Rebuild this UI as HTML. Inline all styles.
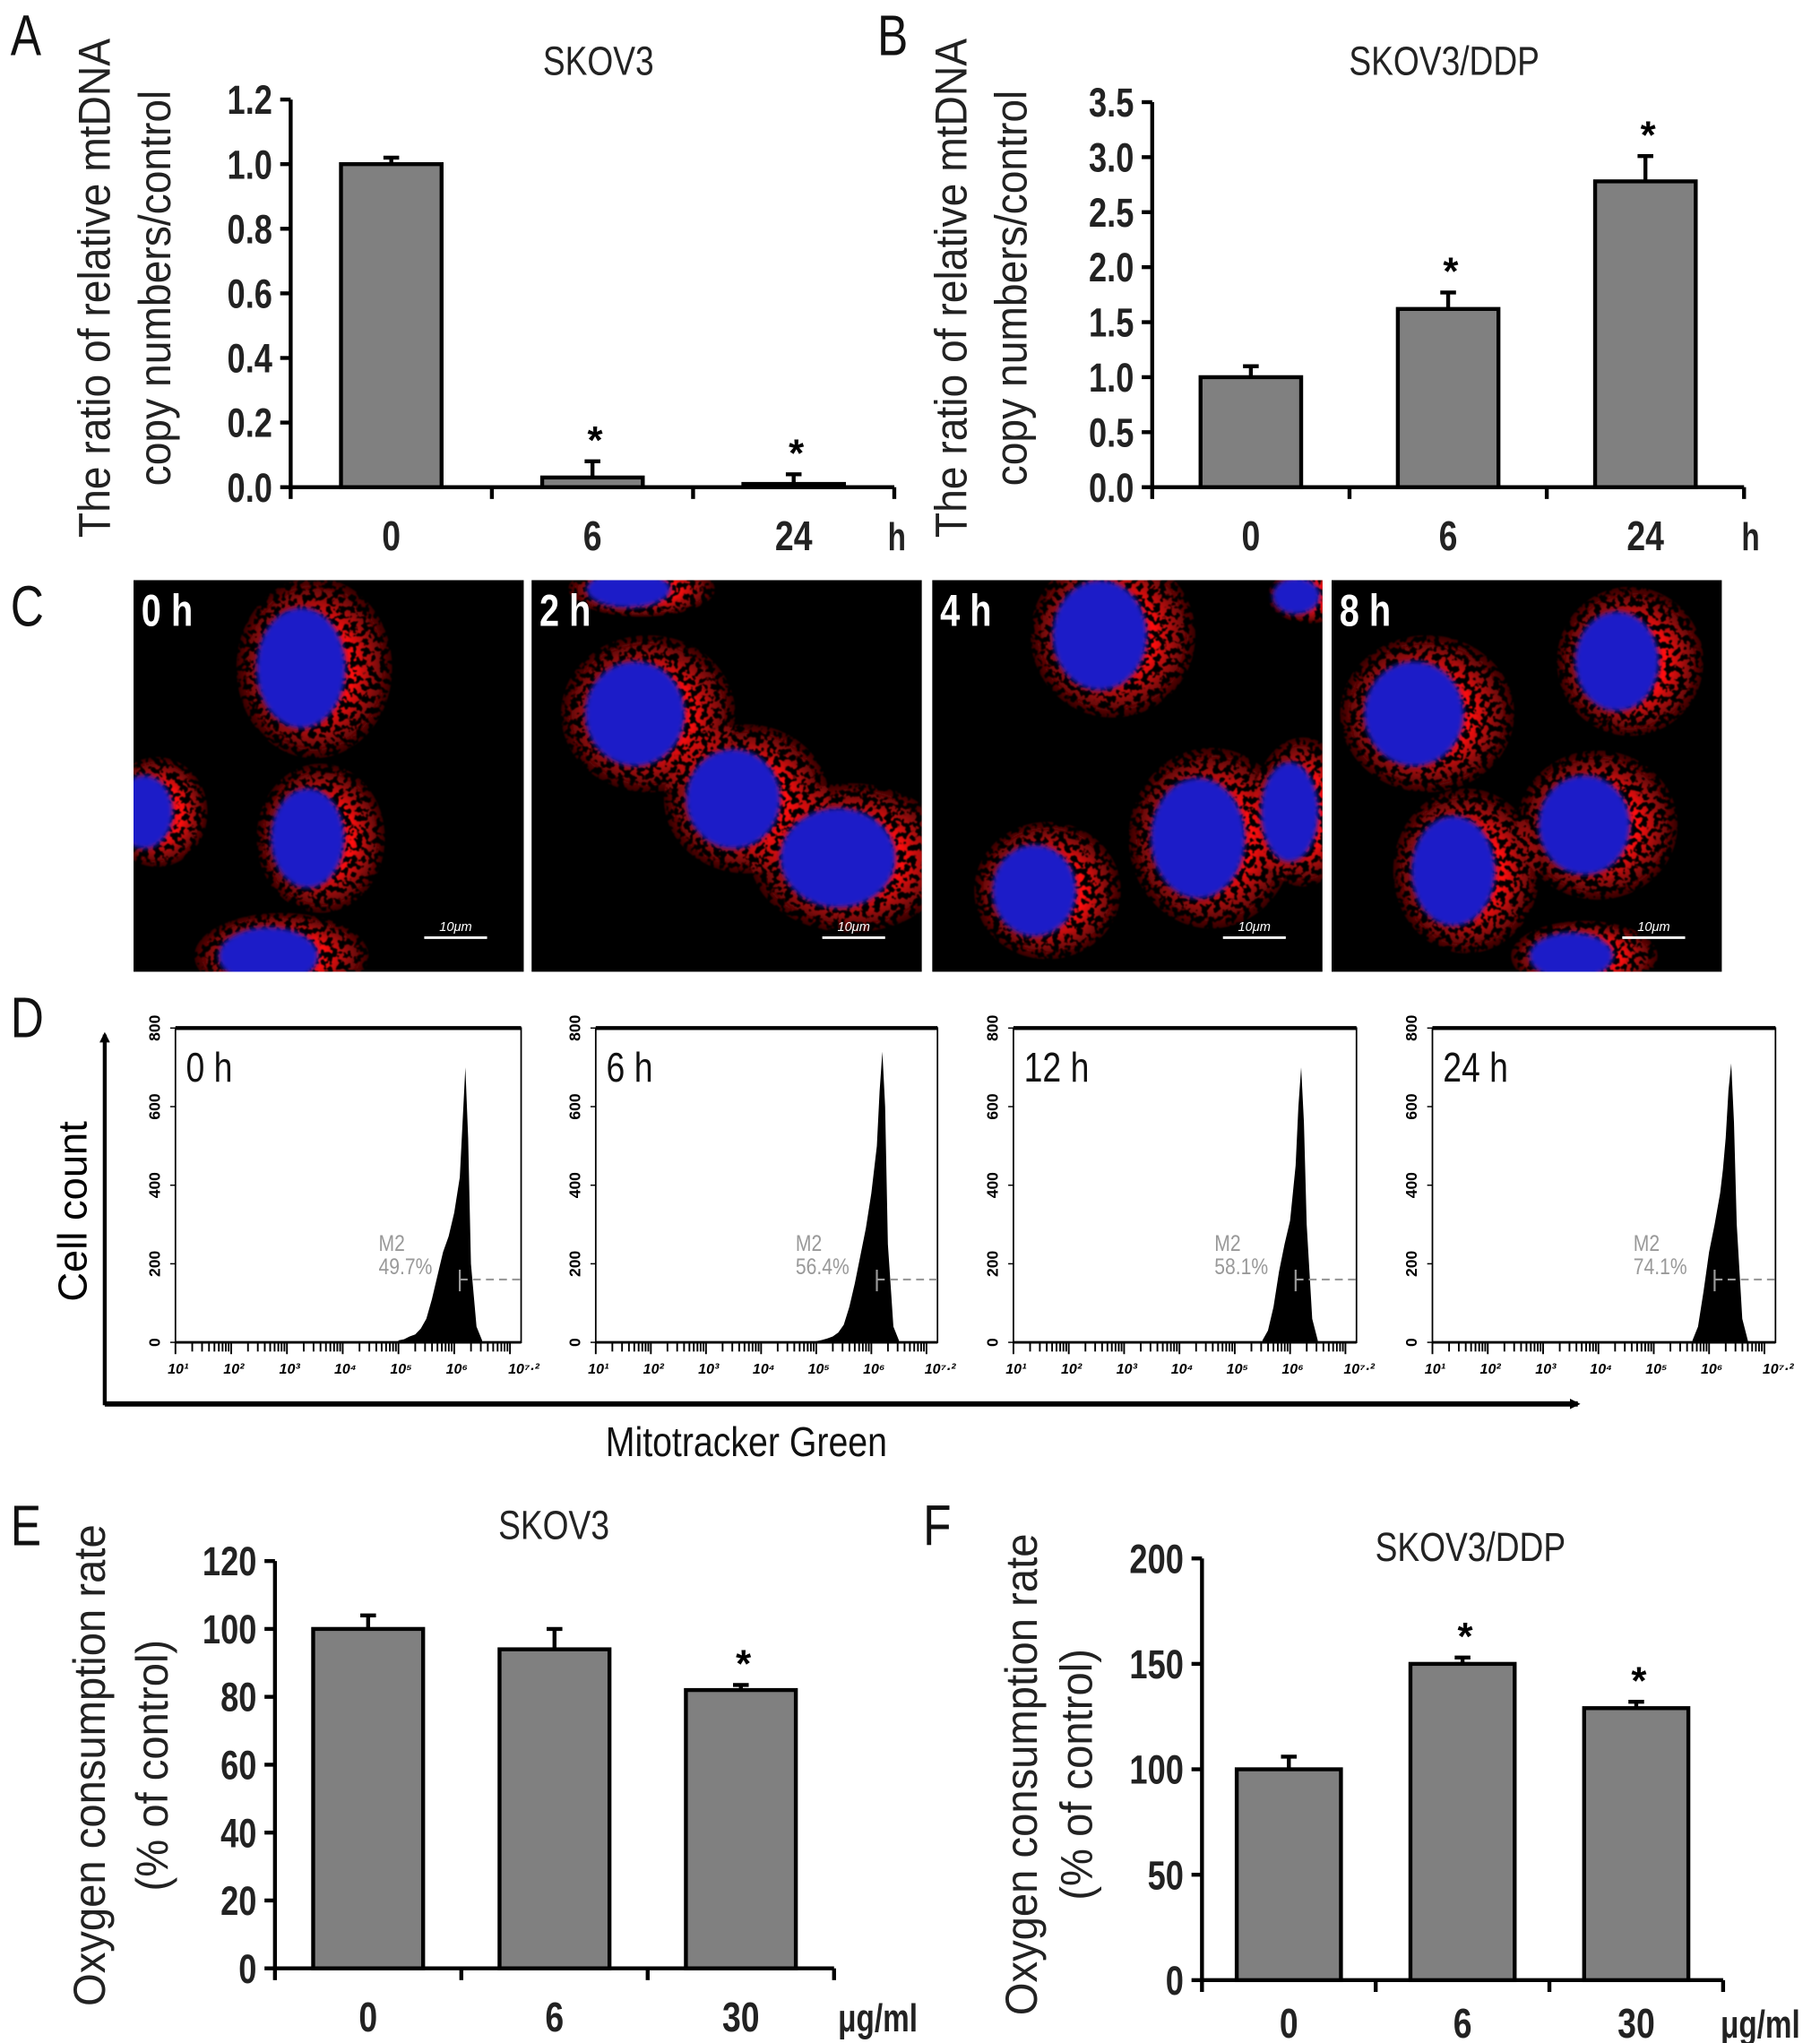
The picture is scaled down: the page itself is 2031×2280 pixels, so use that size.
<!DOCTYPE html>
<html><head><meta charset="utf-8"><style>
html,body{margin:0;padding:0;background:#fff}
svg{display:block}
text{font-family:"Liberation Sans",sans-serif}
</style></head><body>
<svg id="fig" width="2031" height="2280" viewBox="0 0 1390 1560" preserveAspectRatio="none" xmlns="http://www.w3.org/2000/svg">
<defs>
<filter id="speck" x="-20%" y="-20%" width="140%" height="140%">
<feTurbulence type="fractalNoise" baseFrequency="0.22" numOctaves="2" seed="3" result="n"/>
<feColorMatrix in="n" type="matrix" values="0 0 0 0 0 0 0 0 0 0 0 0 0 0 0 0 0 0 -14 7.8" result="m"/>
<feComposite in="SourceGraphic" in2="m" operator="in" result="s"/>
<feGaussianBlur in="s" stdDeviation="0.5"/>
</filter>
<filter id="soft"><feGaussianBlur stdDeviation="2"/></filter>
<radialGradient id="redg"><stop offset="0.5" stop-color="#ff1010" stop-opacity="1"/><stop offset="1" stop-color="#ff1010" stop-opacity="0.2"/></radialGradient>
<marker id="arr" markerWidth="8" markerHeight="8" refX="6" refY="4" orient="auto" markerUnits="userSpaceOnUse"><path d="M0,0 L8,4 L0,8 z" fill="#000"/></marker>
</defs>
<g id="root"></g>
</svg>
<script>
// ---- Panel A data ----
const catsA = ["0","6","24"];
const valsA = [1.0, 0.03, 0.01];
const errA = [0.02, 0.05, 0.03];
const sigA = [false, true, true];
const ticksA = ["0.0","0.2","0.4","0.6","0.8","1.0","1.2"];
// ---- Panel B data ----
const catsB = ["0","6","24"];
const valsB = [1.0, 1.62, 2.78];
const errB = [0.1, 0.15, 0.23];
const sigB = [false, true, true];
const ticksB = ["0.0","0.5","1.0","1.5","2.0","2.5","3.0","3.5"];
// ---- Panel E data ----
const catsE = ["0","6","30"];
const valsE = [100, 94, 82];
const errE = [4, 6, 1.5];
const sigE = [false, false, true];
const ticksE = ["0","20","40","60","80","100","120"];
// ---- Panel F data ----
const catsF = ["0","6","30"];
const valsF = [100, 150, 129];
const errF = [6, 3, 3];
const sigF = [false, true, true];
const ticksF = ["0","50","100","150","200"];
// ---- Panel D histogram data (log10 fluorescence bins, counts) ----
const histLabels = ["0 h","6 h","12 h","24 h"];
const histPct = ["49.7%","56.4%","58.1%","74.1%"];
const histBinsH0 = [5.0,5.1,5.2,5.3,5.4,5.5,5.6,5.7,5.8,5.9,6.0,6.1,6.15,6.2,6.25,6.3,6.4,6.5];
const histCntH0 = [5,8,15,20,35,60,110,170,230,270,330,420,560,700,520,200,40,5];
const histBinsH6 = [5.0,5.1,5.2,5.3,5.4,5.5,5.6,5.7,5.8,5.9,6.0,6.1,6.15,6.2,6.25,6.3,6.4,6.5];
const histCntH6 = [3,6,10,15,25,45,90,150,220,290,380,500,640,740,600,250,40,5];
const histBinsH12 = [5.5,5.6,5.7,5.8,5.9,6.0,6.05,6.1,6.15,6.2,6.25,6.3,6.4,6.5];
const histCntH12 = [5,30,90,180,250,310,380,450,600,700,560,300,60,5];
const histBinsH24 = [5.7,5.8,5.9,6.0,6.1,6.2,6.25,6.3,6.35,6.4,6.45,6.5,6.6,6.7];
const histCntH24 = [5,40,130,230,300,380,440,520,640,710,560,300,60,5];
const histXTicks = ["10¹","10²","10³","10⁴","10⁵","10⁶","10⁷·²"];
const histYTicks = ["0","200","400","600","800"];

const NS="http://www.w3.org/2000/svg";
const root=document.getElementById('root');
function mk(tag,attrs,parent,txt){const e=document.createElementNS(NS,tag);for(const k in attrs)e.setAttribute(k,attrs[k]);if(txt!==undefined)e.textContent=txt;(parent||root).appendChild(e);return e;}
function T(parent,x,y,txt,attrs,rot,sx){
  const a=Object.assign({x:0,y:0},attrs);
  a.transform=`translate(${x},${y})`+(rot?` rotate(${rot})`:'')+` scale(${sx||0.8},1)`;
  return mk('text',a,parent,txt);
}

function barChart(o){
  const g=mk('g',{});
  
  
  const y=v=>o.y0-(v-o.vmin)/(o.vmax-o.vmin)*(o.y0-o.y1);
  const n=o.cats.length, step=(o.x1-o.x0)/n;
  const xc=i=>o.x0+step*(i+0.5);
  const lo=o.lo||48;
  const ya=mk('line',{x1:o.x0,y1:o.y1,x2:o.x0,y2:o.y0,stroke:'#000','stroke-width':3},g);
  
  
  o.ticks.forEach((t,i)=>{
    const v=o.vmin+(o.vmax-o.vmin)*i/(o.ticks.length-1);
    mk('line',{x1:o.x0-8,y1:y(v),x2:o.x0,y2:y(v),stroke:'#000','stroke-width':3},g);
    const tl=T(g,o.x0-14,y(v)+11,t,{'text-anchor':'end','font-size':31,'font-weight':'bold',fill:'#222'},0,0.8);
    
    
  });
  const xa=mk('line',{x1:o.x0,y1:o.y0,x2:o.x1,y2:o.y0,stroke:'#000','stroke-width':3},g);
  
  
  for(let i=0;i<=n;i++) mk('line',{x1:o.x0+step*i,y1:o.y0,x2:o.x0+step*i,y2:o.y0+9,stroke:'#000','stroke-width':3},g);
  o.cats.forEach((c,i)=>{
    const bw=step*o.bf;
    const top=y(o.vals[i]);
    const eT=y(o.vals[i]+o.err[i]);
    const el=mk('line',{x1:xc(i),y1:top,x2:xc(i),y2:eT,stroke:'#000','stroke-width':3},g);
    
    
    mk('line',{x1:xc(i)-6,y1:eT,x2:xc(i)+6,y2:eT,stroke:'#000','stroke-width':3},g);
    const b=mk('rect',{x:xc(i)-bw/2,y:top,width:bw,height:Math.max(o.y0-top,1),fill:'#808080',stroke:'#000','stroke-width':3},g);
    
    
    if(o.sig[i]){const s=mk('text',{x:xc(i)+2,y:eT-6,'text-anchor':'middle','font-size':30,'font-weight':'bold'},g,'*');
      
      }
    const cl=T(g,xc(i),o.y0+lo,c,{'text-anchor':'middle','font-size':32,'font-weight':'bold',fill:'#222'},0,0.8);
    
    
  });
  const u=T(g,o.unitX,o.y0+lo,o.unit,{'font-size':30,'font-weight':'bold',fill:'#222'},0,0.76);
  
  
  const t=T(g,o.tx,o.ty,o.title,{'text-anchor':'middle','font-size':31,fill:'#222'},0,0.82);
  
  
  o.ytitle.forEach((l,k)=>{
    const yt=T(g,o.ytx[k],o.yty,l,{'text-anchor':'middle','font-size':34,fill:'#222'},-90,o.ysx||0.9);
    
    
  });
  const p=T(g,o.px,o.py,o.panel,{'font-size':44,fill:'#111'},0,0.8);
  
  
}

barChart({name:'chart-a',cats:catsA,vals:valsA,err:errA,sig:sigA,ticks:ticksA,vmin:0,vmax:1.2,x0:222,x1:683,y0:372,y1:76,bf:0.5,unit:'h',unitX:678,title:'SKOV3',tx:457,ty:57,ytitle:['The ratio of relative mtDNA','copy numbers/control'],ytx:[84,130],yty:220,ysx:0.93,panel:'A',px:8,py:42});
barChart({name:'chart-b',cats:catsB,vals:valsB,err:errB,sig:sigB,ticks:ticksB,vmin:0,vmax:3.5,x0:880,x1:1332,y0:372,y1:78,bf:0.51,unit:'h',unitX:1330,title:'SKOV3/DDP',tx:1103,ty:57,ytitle:['The ratio of relative mtDNA','copy numbers/control'],ytx:[738,784],yty:220,ysx:0.93,panel:'B',px:670,py:42});
barChart({name:'chart-e',cats:catsE,vals:valsE,err:errE,sig:sigE,ticks:ticksE,vmin:0,vmax:120,x0:210,x1:637,y0:1503,y1:1192,bf:0.59,unit:'μg/ml',unitX:640,title:'SKOV3',tx:423,ty:1175,ytitle:['Oxygen consumption rate','(% of control)'],ytx:[80,128],yty:1348,ysx:0.95,panel:'E',px:8,py:1180});
barChart({name:'chart-f',cats:catsF,vals:valsF,err:errF,sig:sigF,ticks:ticksF,vmin:0,vmax:200,x0:918,x1:1316,y0:1512,y1:1190,bf:0.6,lo:44,unit:'μg/ml',unitX:1314,title:'SKOV3/DDP',tx:1123,ty:1192,ytitle:['Oxygen consumption rate','(% of control)'],ytx:[792,834],yty:1355,ysx:0.95,panel:'F',px:705,py:1180});

// ---- Panel C microscopy (illustrative) ----
const micro=[
 {x:102,l:'0 h',cells:[[230,510,34,46],[235,640,28,38],[205,730,38,22],[110,620,22,28]]},
 {x:406,l:'2 h',cells:[[485,545,38,40],[560,610,36,38],[640,655,44,38],[480,450,32,14]]},
 {x:712,l:'4 h',cells:[[840,485,36,42],[915,640,36,46],[790,680,32,35],[985,620,22,38],[990,455,18,14]]},
 {x:1017,l:'8 h',cells:[[1080,545,38,40],[1210,630,35,38],[1110,665,32,42],[1235,505,32,38],[1200,730,32,18]]}
];
micro.forEach((m,i)=>{
  const g=mk('g',{});
  
  
  const cid='clip'+i;
  const cp=mk('clipPath',{id:cid},g);mk('rect',{x:m.x,y:443,width:298,height:299},cp);
  mk('rect',{x:m.x,y:443,width:298,height:299,fill:'#000'},g);
  const gg=mk('g',{'clip-path':`url(#${cid})`},g);
  const rg=mk('g',{filter:'url(#speck)'},gg);
  m.cells.forEach(c=>{
    mk('ellipse',{cx:c[0]+10,cy:c[1],rx:c[2]*1.75,ry:c[3]*1.5,fill:'url(#redg)'},rg);
  });
  m.cells.forEach(c=>{
    mk('ellipse',{cx:c[0],cy:c[1],rx:c[2],ry:c[3],fill:'#1c1cc8',filter:'url(#soft)'},gg);
  });
  const lt=T(g,m.x+6,478,m.l,{'font-size':34,'font-weight':'bold',fill:'#fff'},0,0.8);
  
  
  mk('line',{x1:m.x+222,y1:716,x2:m.x+270,y2:716,stroke:'#fff','stroke-width':2},g);
  const sb=mk('text',{x:m.x+246,y:711,'text-anchor':'middle','font-size':10,'font-style':'italic',fill:'#fff'},g,'10μm');
  
  
});
const pc=T(root,8,478,'C',{'font-size':44,fill:'#111'},0,0.8);



// ---- Panel D histograms ----
const hbins=[histBinsH0,histBinsH6,histBinsH12,histBinsH24];
const hcnts=[histCntH0,histCntH6,histCntH12,histCntH24];
const hboxes=[[134,398],[455,716],[774,1036],[1094,1356]];
const hTop=785,hBot=1025;
hboxes.forEach((b,i)=>{
  const g=mk('g',{});
  
  
  const xs=v=>b[0]+(v-1)/6.2*(b[1]-b[0]);
  const ys=c=>hBot-c/800*(hBot-hTop);
  mk('rect',{x:b[0],y:hTop,width:b[1]-b[0],height:hBot-hTop,fill:'#fff',stroke:'#000','stroke-width':1.2},g);
  mk('line',{x1:b[0],y1:hTop,x2:b[1],y2:hTop,stroke:'#000','stroke-width':3},g);
  histYTicks.forEach((t,k)=>{
    const yy=ys(k*200);
    mk('line',{x1:b[0]-4,y1:yy,x2:b[0],y2:yy,stroke:'#000'},g);
    mk('text',{x:0,y:0,transform:`translate(${b[0]-12},${yy}) rotate(-90)`,'text-anchor':'middle','font-size':12,'font-weight':'bold'},g,t);
  });
  for(let d=1;d<=7;d++){for(let s=1;s<10;s++){const lv=d-1+Math.log10(s)+1; if(lv>7.2)break;
    mk('line',{x1:xs(lv),y1:hBot,x2:xs(lv),y2:hBot+(s==1?9:7),stroke:'#000','stroke-width':1.3},g);}}
  histXTicks.forEach((t,k)=>{
    const lv=k<6?k+1:7.2;
    mk('text',{x:xs(lv)+2,y:hBot+24,'text-anchor':'middle','font-size':11,'font-style':'italic','font-weight':'bold'},g,t);
  });
  const bins=hbins[i],cnts=hcnts[i];
  let d=`M${xs(bins[0])},${hBot}`;
  bins.forEach((v,k)=>{d+=` L${xs(v)},${ys(cnts[k])}`;});
  d+=` L${xs(bins[bins.length-1])},${hBot} Z`;
  const hp=mk('path',{d:d,fill:'#000'},g);
  
  
  mk('line',{x1:b[0],y1:hBot,x2:b[1],y2:hBot,stroke:'#000','stroke-width':2},g);
  const gx=xs(6.1);
  mk('line',{x1:gx,y1:ys(160),x2:b[1],y2:ys(160),stroke:'#999','stroke-width':1.5,'stroke-dasharray':'6,4'},g);
  mk('line',{x1:gx,y1:ys(185),x2:gx,y2:ys(130),stroke:'#999','stroke-width':1.5},g);
  T(g,gx-62,955,'M2',{'font-size':17,fill:'#999'},0,0.85);
  const pt=T(g,gx-62,973,histPct[i],{'font-size':17,fill:'#999'},0,0.85);
  
  
  const lt=T(g,b[0]+8,826,histLabels[i],{'font-size':32,'fill':'#111'},0,0.8);
  
  
});
mk('line',{x1:80,y1:1073,x2:80,y2:790,stroke:'#000','stroke-width':3,'marker-end':'url(#arr)'});
mk('line',{x1:80,y1:1072,x2:1205,y2:1072,stroke:'#000','stroke-width':4,'marker-end':'url(#arr)'});
const cc=mk('text',{x:0,y:0,transform:'translate(66,925) rotate(-90)','text-anchor':'middle','font-size':31},root,'Cell count');


const mg=T(root,570,1112,'Mitotracker Green',{'text-anchor':'middle','font-size':32,fill:'#111'},0,0.84);


const pd=T(root,8,792,'D',{'font-size':44,fill:'#111'},0,0.8);


</script>
</body></html>
